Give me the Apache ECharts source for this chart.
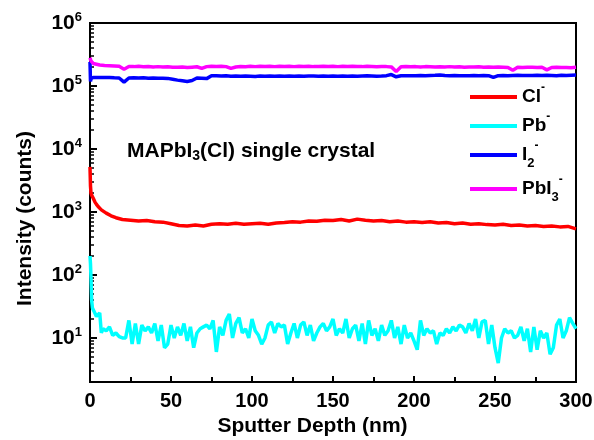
<!DOCTYPE html>
<html><head><meta charset="utf-8">
<script src="https://cdn.jsdelivr.net/npm/echarts@6/dist/echarts.min.js"></script>
<style>html,body{margin:0;padding:0;background:#fff}#c{width:594px;height:440px}</style>
</head><body><div id="c"></div>
<script>
const FONT = '"Liberation Sans", Arial, Helvetica, sans-serif';

// Cl- (red)
const depthCl = [0, 0.3, 0.6, 1, 2, 3, 4, 5, 7, 10, 13, 16, 20,
  25, 30, 35, 40, 45, 50, 55, 60, 65, 70,
  75, 80, 85, 90, 95, 100, 105, 110, 115, 120,
  125, 130, 135, 140, 145, 150, 155, 160, 165, 170,
  175, 180, 185, 190, 195, 200, 205, 210, 215, 220,
  225, 230, 235, 240, 245, 250, 255, 260, 265, 270,
  275, 280, 285, 290, 295, 300];
const cl = [5200, 2600, 2000, 1850, 1650, 1450, 1320, 1220, 1080, 960, 870, 810, 760,
  740, 720, 730, 700, 690, 650, 610, 600, 620, 600,
  640, 650, 640, 660, 640, 650, 660, 640, 670, 680,
  700, 690, 720, 710, 740, 730, 760, 720, 770, 740,
  720, 730, 700, 720, 690, 700, 680, 700, 670, 680,
  650, 670, 640, 650, 630, 620, 640, 610, 620, 600,
  610, 590, 600, 580, 590, 540];

// Pb- (cyan)
const depthPb = [0, 0.3, 0.6, 1, 1.5, 2, 3, 4, 5, 6, 7, 8,
  10, 12, 14, 16, 18, 20, 22, 24, 26, 28,
  30, 32, 34, 36, 38, 40, 42, 44, 46, 48,
  50, 52, 54, 56, 58, 60, 62, 64, 66, 68,
  70, 72, 74, 76, 78, 80, 82, 84, 86, 88,
  90, 92, 94, 96, 98, 100, 102, 104, 106, 108,
  110, 112, 114, 116, 118, 120, 122, 124, 126, 128,
  130, 132, 134, 136, 138, 140, 142, 144, 146, 148,
  150, 152, 154, 156, 158, 160, 162, 164, 166, 168,
  170, 172, 174, 176, 178, 180, 182, 184, 186, 188,
  190, 192, 194, 196, 198, 200, 202, 204, 206, 208,
  210, 212, 214, 216, 218, 220, 222, 224, 226, 228,
  230, 232, 234, 236, 238, 240, 242, 244, 246, 248,
  250, 252, 254, 256, 258, 260, 262, 264, 266, 268,
  270, 272, 274, 276, 278, 280, 282, 284, 286, 288,
  290, 292, 294, 296, 298, 300];
const pb = [200, 150, 90, 40, 30, 28, 25, 22, 21, 25, 12, 14,
  13, 15, 11, 12, 10.5, 10, 10, 19, 8, 17,
  8, 16, 13, 15, 12, 17, 9, 16, 7, 8,
  16, 10, 15, 11, 17, 9, 15, 7, 12, 14,
  15, 16, 14, 19, 6, 15, 11, 19, 24, 10,
  17, 21, 12, 14, 10, 20, 13, 11, 8, 10,
  16, 18, 12, 17, 15, 16, 8, 12, 17, 10,
  16, 18, 11, 16, 9, 12, 15, 17, 13, 15,
  20, 11, 14, 12, 20, 10, 14, 16, 9, 17,
  8, 19, 11, 14, 9, 16, 11, 13, 19, 10,
  15, 8, 16, 10, 12, 9, 6.5, 19, 11, 14,
  12, 13, 8, 12, 11, 14, 12, 15, 13, 16,
  15, 12, 17, 13, 20, 10, 18, 19, 8, 16,
  7, 4, 10, 14, 12, 13, 10, 11, 15, 9,
  14, 6, 15, 6.5, 13, 10, 12, 5.5, 7, 16,
  20, 10, 13, 21, 17, 14];

// I2- (blue) and PbI3- (magenta)
const depthI = [0, 0.3, 0.6, 1, 2,
  3, 6, 9, 12, 15, 18, 21, 24, 27, 30,
  33, 36, 39, 42, 45, 48, 51, 54, 57, 60,
  63, 66, 69, 72, 75, 78, 81, 84, 87, 90,
  93, 96, 99, 102, 105, 108, 111, 114, 117, 120,
  123, 126, 129, 132, 135, 138, 141, 144, 147, 150,
  153, 156, 159, 162, 165, 168, 171, 174, 177, 180,
  183, 186, 189, 192, 195, 198, 201, 204, 207, 210,
  213, 216, 219, 222, 225, 228, 231, 234, 237, 240,
  243, 246, 249, 252, 255, 258, 261, 264, 267, 270,
  273, 276, 279, 282, 285, 288, 291, 294, 297, 300];
const i2 = [240000, 118000, 130000, 136000, 137000,
  136000, 137000, 136000, 137000, 135000, 134000, 115000, 134000, 135000, 134000,
  135000, 133000, 134000, 133000, 133000, 132000, 128000, 124000, 121000, 118000,
  122000, 134000, 133000, 131000, 145000, 145000, 144000, 145000, 143000, 144000,
  143000, 144000, 143000, 142000, 144000, 143000, 144000, 143000, 144000, 143000,
  144000, 143000, 144000, 143000, 144000, 144000, 143000, 144000, 143000, 144000,
  143000, 144000, 143000, 144000, 143000, 144000, 145000, 144000, 143000, 144000,
  146000, 152000, 140000, 145000, 146000, 145000, 146000, 147000, 146000, 147000,
  148000, 150000, 147000, 146000, 147000, 146000, 145000, 146000, 147000, 146000,
  147000, 146000, 137000, 146000, 147000, 146000, 147000, 148000, 147000, 147000,
  147000, 148000, 147000, 148000, 147000, 146000, 148000, 147000, 148000, 149000];
const pbi3 = [280000, 265000, 250000, 240000, 228000,
  222000, 215000, 212000, 210000, 208000, 205000, 185000, 204000, 203000, 205000,
  202000, 204000, 201000, 203000, 200000, 202000, 199000, 198000, 200000, 196000,
  199000, 202000, 190000, 203000, 205000, 204000, 206000, 203000, 190000, 200000,
  204000, 202000, 205000, 203000, 206000, 204000, 205000, 203000, 206000, 204000,
  205000, 203000, 206000, 204000, 205000, 203000, 204000, 206000, 204000, 205000,
  203000, 205000, 204000, 206000, 204000, 203000, 205000, 204000, 202000, 204000,
  203000, 201000, 170000, 202000, 204000, 202000, 203000, 201000, 203000, 202000,
  200000, 202000, 201000, 203000, 200000, 202000, 199000, 201000, 200000, 202000,
  199000, 201000, 198000, 200000, 199000, 197000, 178000, 199000, 197000, 199000,
  198000, 196000, 198000, 180000, 197000, 198000, 196000, 197000, 195000, 198000];

const seriesNames = ['Cl-', 'Pb-', 'I2-', 'PbI3-'];
const seriesColors = ['#ff0000', '#00ffff', '#0000ff', '#ff00ff'];
const legendLabels = ['Cl{sup|-}', 'Pb{sup|-}', 'I{sub|2}{sup|-}', 'PbI{sub|3}{sup|-}'];

const yMajorTicks = [10, 100, 1000, 10000, 100000, 1000000];
const yMajorExps = ['1', '2', '3', '4', '5', '6'];
const yMinorTicks = [2, 3, 4, 5, 6, 7, 8, 9,
  20, 30, 40, 50, 60, 70, 80, 90,
  200, 300, 400, 500, 600, 700, 800, 900,
  2000, 3000, 4000, 5000, 6000, 7000, 8000, 9000,
  20000, 30000, 40000, 50000, 60000, 70000, 80000, 90000,
  200000, 300000, 400000, 500000, 600000, 700000, 800000, 900000];

const pairs = (xs, ys) => xs.map((x, i) => [x, ys[i]]);
const seriesData = [pairs(depthCl, cl), pairs(depthPb, pb), pairs(depthI, i2), pairs(depthI, pbi3)];

const bold = { fontFamily: FONT, fontWeight: 'bold', color: '#000' };
const legendTops = [82, 111, 140, 174];

const chart = echarts.init(document.getElementById('c'), null, { renderer: 'canvas' });
chart.setOption({
  animation: false,
  backgroundColor: '#fff',
  grid: { left: 90, right: 18, top: 23, bottom: 58, show: true, borderColor: '#000', borderWidth: 2, containLabel: false, outerBoundsMode: 'none' },
  xAxis: {
    type: 'value', min: 0, max: 300, interval: 50,
    axisLine: { show: true, lineStyle: { color: '#000', width: 2 } },
    axisTick: { show: true, inside: true, length: 6, lineStyle: { color: '#000', width: 2 } },
    minorTick: { show: true, splitNumber: 2, length: 5, lineStyle: { color: '#000', width: 2 } },
    splitLine: { show: false },
    axisLabel: Object.assign({ fontSize: 20, margin: 9 }, bold),
    name: 'Sputter Depth (nm)', nameLocation: 'middle', nameGap: 28,
    nameTextStyle: Object.assign({ fontSize: 21, padding: [0, 41, 0, 0] }, bold)
  },
  yAxis: [{
    type: 'log', logBase: 10, min: 2, max: 1000000,
    axisLine: { show: true, lineStyle: { color: '#000', width: 2 } },
    axisTick: { show: true, inside: true, length: 7, customValues: yMajorTicks, lineStyle: { color: '#000', width: 2 } },
    splitLine: { show: false },
    axisLabel: {
      customValues: yMajorTicks, margin: 8,
      formatter: function (v) {
        const k = Math.round(Math.log10(v)) - 1;
        return '{b|10}{s|' + yMajorExps[k] + '}';
      },
      rich: {
        b: Object.assign({ fontSize: 21, lineHeight: 24 }, bold),
        s: Object.assign({ fontSize: 13, lineHeight: 10, verticalAlign: 'top' }, bold)
      }
    },
    name: 'Intensity (counts)', nameLocation: 'middle', nameGap: 54,
    nameTextStyle: Object.assign({ fontSize: 21, padding: [0, 32, 0, 0] }, bold)
  }, {
    type: 'log', logBase: 10, min: 2, max: 1000000, position: 'left',
    axisLine: { show: false },
    axisTick: { show: true, inside: true, length: 4, customValues: yMinorTicks, lineStyle: { color: '#000', width: 1.5 } },
    axisLabel: { show: false },
    splitLine: { show: false }
  }],
  legend: seriesNames.map((n, k) => ({
    data: [n], orient: 'vertical', left: 470, top: legendTops[k], padding: 0,
    itemWidth: 47, itemHeight: 4, icon: 'rect', selectedMode: false,
    formatter: () => legendLabels[k],
    textStyle: Object.assign({
      fontSize: 19, lineHeight: 30,
      rich: {
        sup: Object.assign({ fontSize: 12, lineHeight: 14, verticalAlign: 'top' }, bold),
        sub: Object.assign({ fontSize: 13, lineHeight: 12, verticalAlign: 'bottom' }, bold)
      }
    }, bold)
  })),
  graphic: [{
    type: 'text', left: 127, top: 139,
    style: {
      text: 'MAPbI{sub|3}(Cl) single crystal',
      fontSize: 21, fontWeight: 'bold', fontFamily: FONT, fill: '#000', lineHeight: 24,
      rich: { sub: { fontSize: 14, fontWeight: 'bold', fontFamily: FONT, fill: '#000', lineHeight: 16, verticalAlign: 'bottom' } }
    }
  }],
  series: seriesNames.map((n, k) => ({
    name: n, type: 'line', data: seriesData[k], symbol: 'none', showSymbol: false,
    lineStyle: { color: seriesColors[k], width: 3.5 }, itemStyle: { color: seriesColors[k] },
    z: 2 + k
  }))
});
</script></body></html>
